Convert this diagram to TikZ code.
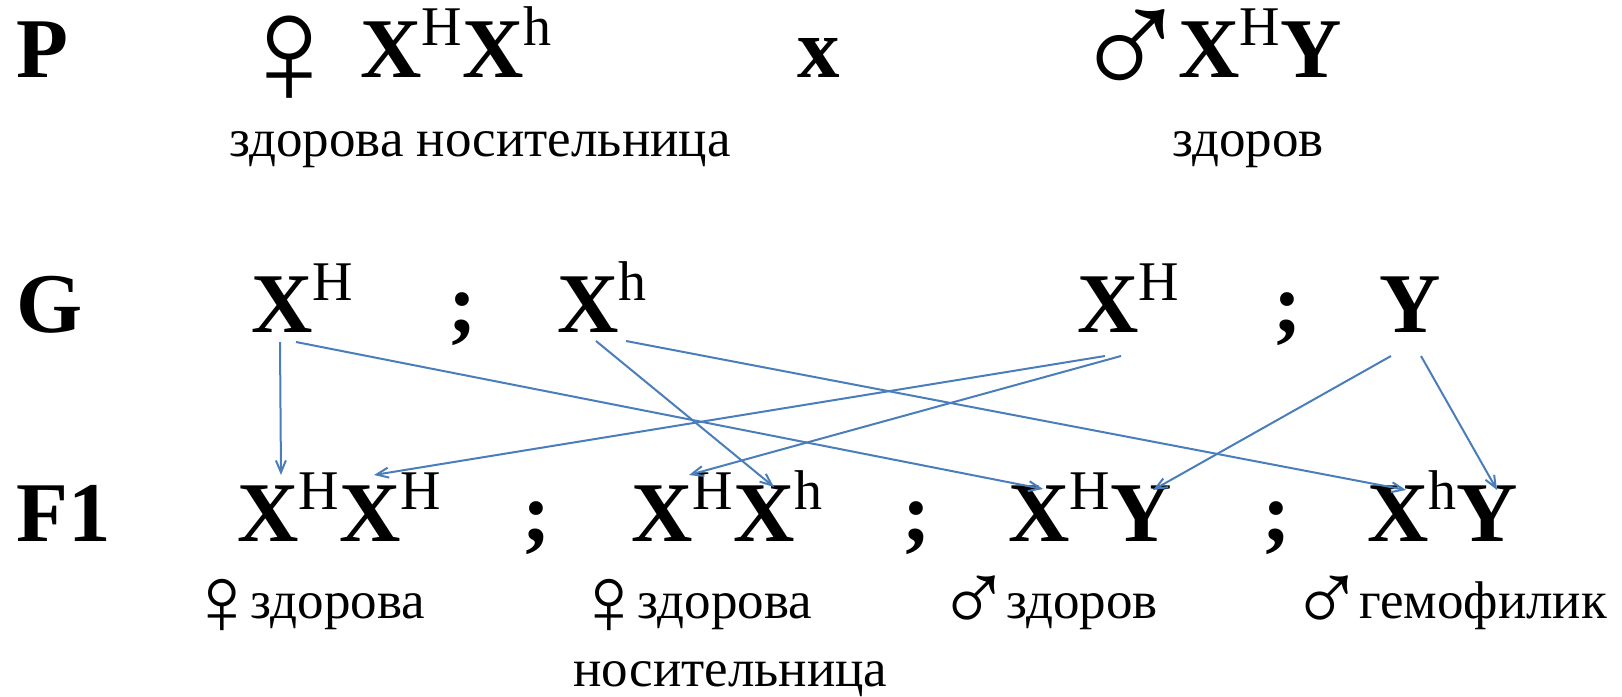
\documentclass[tikz,border=0pt]{standalone}
\usepackage{fontspec}
\setmainfont{Liberation Serif}
\usetikzlibrary{arrows.meta,calc}
\definecolor{arrowcolor}{HTML}{4A7EBB}
\newcommand{\allele}[1]{\raisebox{16pt}{\normalfont\fontsize{28}{30}\selectfont #1}}
\newcommand{\signfem}{\raisebox{-0.32em}{\scalebox{1.85}{♀}}}
\newcommand{\signmal}{\raisebox{-0.28em}{\scalebox{1.9}{♂}}}
\tikzset{
  gen big/.style={font=\fontsize{42.5}{50}\selectfont\bfseries,inner sep=0pt,anchor=base west},
  gen sign/.style={font=\fontsize{42.5}{50}\selectfont,inner sep=0pt,anchor=base west},
  gen note/.style={font=\fontsize{26.5}{32}\selectfont,inner sep=0pt,anchor=base west},
  gen arrow/.style={arrowcolor,line width=1pt,-{Straight Barb[length=6pt,width=5pt]}}
}

\begin{document}
\begin{tikzpicture}[x=0.5pt,y=-0.5pt]
  \useasboundingbox (0,0) rectangle (1622,696);
  % parents
  \node[gen big] (rowP) at (16,77) {P};
  \node[gen sign] (pFem) at (230,77) {\signfem};
  \node[gen big] (pA) at (360,77) {X\allele{H}X\allele{h}};
  \node[gen big] (cross) at (797,77) {x};
  \node[gen sign] (pMale) at (1070,77) {\signmal};
  \node[gen big] (pB) at (1178,77) {X\allele{H}Y};
  \node[gen note,anchor=base] (pNoteA) at (480,156) {здорова носительница};
  \node[gen note] (pNoteB) at (1172,156) {здоров};
  % gametes
  \node[gen big] (rowG) at (16,332) {G};
  \node[gen big] (gA) at (251,332) {X\allele{H}};
  \node[gen big] (gB) at (557,332) {X\allele{h}};
  \node[gen big] (gC) at (1077,332) {X\allele{H}};
  \node[gen big] (gD) at (1379,332) {Y};
  % offspring
  \node[gen big] (rowF) at (16,541) {F1};
  \node[gen big] (fA) at (237,541) {X\allele{H}X\allele{H}};
  \node[gen big] (fB) at (631,541) {X\allele{H}X\allele{h}};
  \node[gen big] (fC) at (1008,541) {X\allele{H}Y};
  \node[gen big] (fD) at (1367,541) {X\allele{h}Y};
  \foreach \n/\x/\y in {sA/448/332,sB/1273/332,sC/522/541,sD/902/541,sE/1262/541}
    \node[gen big] (\n) at (\x,\y) {;};
  \node[gen note] (fNoteA) at (185,618) {\signfem\hspace{-0.15em}здорова};
  \node[gen note] (fNoteB) at (572,618) {\signfem\hspace{-0.15em}здорова};
  \node[gen note] (fNoteC) at (573,686) {носительница};
  \node[gen note] (fNoteD) at (936,618) {\signmal\hspace{-0.11em}здоров};
  \node[gen note] (fNoteE) at (1289,618) {\signmal\hspace{-0.11em}гемофилик};
  % crossing arrows
  \foreach \a/\da/\b/\db in {gA/{29,10}/fA/{44,-66},gA/{45,10}/fC/{35,-52},
      gB/{39,9}/fB/{143,-54},gB/{69,9}/fD/{39,-51},
      gC/{28,24}/fA/{137,-66},gC/{44,24}/fB/{58,-66},
      gD/{12,24}/fC/{145,-51},gD/{42,24}/fD/{130,-51}}
    \draw[gen arrow] ($(\a.base west)+(\da)$) -- ($(\b.base west)+(\db)$);
\end{tikzpicture}
\end{document}
